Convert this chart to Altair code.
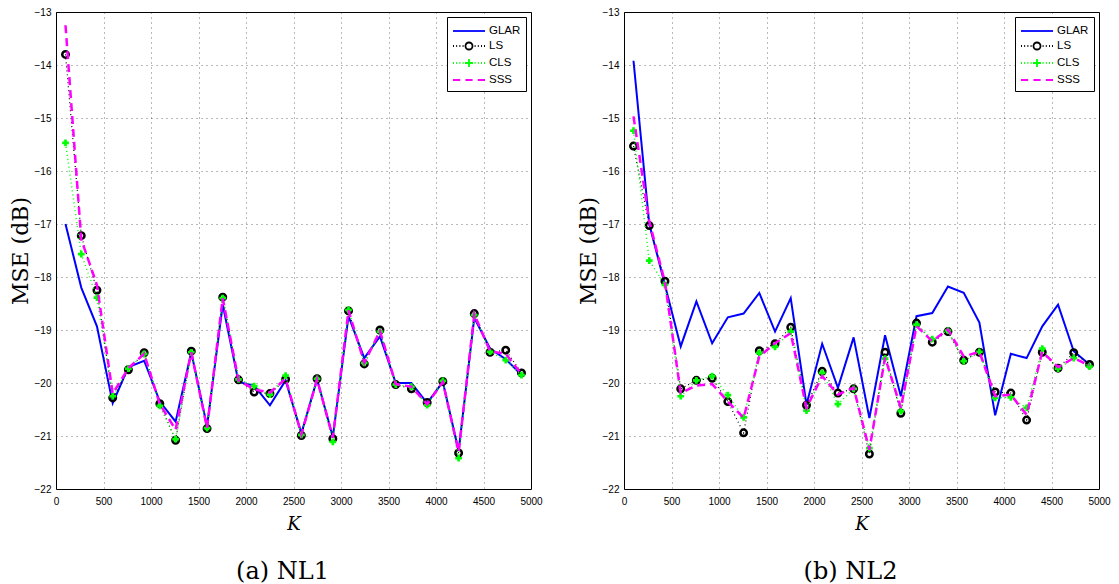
import altair as alt
import pandas as pd

K = [100, 266, 431, 597, 762, 928, 1093, 1259, 1424, 1590, 1755, 1921, 2086, 2252, 2417,
     2583, 2748, 2914, 3079, 3245, 3410, 3576, 3741, 3907, 4072, 4238, 4403, 4569, 4734, 4900]

nl1_glar = [-17.00, -18.20, -18.93, -20.38, -19.70, -19.58, -20.35, -20.73, -19.42, -20.82,
            -18.52, -19.98, -20.05, -20.42, -19.95, -20.95, -19.93, -21.02, -18.74, -19.53,
            -19.12, -20.00, -20.00, -20.38, -19.98, -21.28, -18.77, -19.35, -19.55, -19.85]
nl1_ls = [-13.80, -17.22, -18.25, -20.28, -19.75, -19.43, -20.39, -21.08, -19.40, -20.86,
          -18.38, -19.94, -20.17, -20.20, -19.93, -20.99, -19.92, -21.05, -18.64, -19.64,
          -19.00, -20.03, -20.11, -20.37, -19.97, -21.32, -18.69, -19.42, -19.38, -19.81]
nl1_cls = [-15.47, -17.57, -18.39, -20.25, -19.73, -19.45, -20.43, -21.06, -19.42, -20.85,
           -18.40, -19.93, -20.06, -20.22, -19.86, -20.98, -19.92, -21.11, -18.62, -19.62,
           -19.03, -20.03, -20.07, -20.42, -19.96, -21.42, -18.72, -19.41, -19.57, -19.85]
nl1_sss = [-13.25, -17.29, -18.15, -20.20, -19.72, -19.45, -20.40, -20.88, -19.42, -20.85,
           -18.40, -19.95, -20.12, -20.18, -19.92, -20.97, -19.93, -21.03, -18.63, -19.62,
           -19.02, -20.02, -20.07, -20.40, -19.98, -21.30, -18.70, -19.40, -19.45, -19.83]

nl2_glar = [-13.92, -17.00, -18.15, -19.31, -18.46, -19.25, -18.76, -18.69, -18.30, -19.03,
            -18.40, -20.41, -19.26, -20.09, -19.14, -20.66, -19.10, -20.25, -18.74, -18.68,
            -18.18, -18.30, -18.86, -20.61, -19.45, -19.53, -18.93, -18.52, -19.40, -19.65]
nl2_ls = [-15.53, -17.03, -18.08, -20.11, -19.95, -19.91, -20.35, -20.94, -19.39, -19.26,
          -18.95, -20.42, -19.78, -20.19, -20.11, -21.34, -19.42, -20.57, -18.87, -19.23,
          -19.03, -19.57, -19.42, -20.17, -20.19, -20.70, -19.42, -19.72, -19.43, -19.65]
nl2_cls = [-15.24, -17.69, -18.15, -20.25, -19.95, -19.87, -20.23, -20.65, -19.43, -19.32,
           -19.03, -20.52, -19.81, -20.40, -20.11, -21.23, -19.54, -20.53, -18.90, -19.17,
           -19.01, -19.59, -19.41, -20.28, -20.27, -20.47, -19.35, -19.73, -19.53, -19.69]
nl2_sss = [-14.97, -16.95, -18.10, -20.19, -20.05, -20.02, -20.35, -20.66, -19.50, -19.25,
           -19.06, -20.47, -19.87, -20.22, -20.09, -21.26, -19.52, -20.47, -18.93, -19.21,
           -18.99, -19.50, -19.41, -20.25, -20.22, -20.60, -19.41, -19.70, -19.53, -19.67]

series = ["GLAR", "LS", "CLS", "SSS"]
colors = ["#0000ff", "#000000", "#00ff00", "#ff00ff"]
x_ticks = [0, 500, 1000, 1500, 2000, 2500, 3000, 3500, 4000, 4500, 5000]
y_ticks = [-22, -21, -20, -19, -18, -17, -16, -15, -14, -13]
captions = ["(a) NL1", "(b) NL2"]

# legend symbol glyphs (unit = 8 px, spanning -1..3 -> 32 px)
dots = "M-1,0h0.12M-0.6,0h0.12M-0.2,0h0.12M0.2,0h0.12M1.7,0h0.12M2.1,0h0.12M2.5,0h0.12M2.88,0h0.12"
legend_paths = [
    "M-1,0H3",
    dots + "M0.56,0a0.44,0.44 0 1,0 0.88,0a0.44,0.44 0 1,0 -0.88,0",
    dots + "M0.5,0H1.5M1,-0.5V0.5",
    "M-1,0h0.9M0.55,0h0.9M2.1,0h0.9",
]


def make_df(glar, ls, cls, sss):
    rows = []
    for name, vals in zip(series, [glar, ls, cls, sss]):
        for k, v in zip(K, vals):
            rows.append({"K": k, "MSE": v, "series": name})
    return pd.DataFrame(rows)


def panel(df, caption):
    base = alt.Chart(df).encode(
        x=alt.X("K:Q", scale=alt.Scale(domain=[0, 5000], nice=False, zero=False),
                axis=alt.Axis(values=x_ticks, title="K", titleFontStyle="italic",
                              titleFont="DejaVu Serif", titleFontSize=18,
                              titleFontWeight="normal", titlePadding=9, format="d",
                              labelFlush=False, labelPadding=7)),
        y=alt.Y("MSE:Q", scale=alt.Scale(domain=[-22, -13], nice=False, zero=False),
                axis=alt.Axis(values=y_ticks, title="MSE (dB)", titleFont="DejaVu Serif",
                              titleFontSize=22, titleFontWeight="normal", titlePadding=2,
                              labelFlush=False, labelPadding=5)),
    )
    glar = base.transform_filter(alt.datum.series == "GLAR").mark_line(
        color="#0000ff", strokeWidth=2)
    ls_line = base.transform_filter(alt.datum.series == "LS").mark_line(
        color="#000000", strokeWidth=1.2, strokeDash=[1, 3])
    ls_pts = base.transform_filter(alt.datum.series == "LS").mark_point(
        shape="circle", filled=False, color="#000000", strokeWidth=2.5, size=42, opacity=1)
    cls_line = base.transform_filter(alt.datum.series == "CLS").mark_line(
        color="#00ff00", strokeWidth=1.5, strokeDash=[1, 3])
    cls_pts = base.transform_filter(alt.datum.series == "CLS").mark_point(
        shape="cross", filled=True, color="#00ff00", size=45, opacity=1)
    sss = base.transform_filter(alt.datum.series == "SSS").mark_line(
        color="#ff00ff", strokeWidth=2.5, strokeDash=[8, 5])
    leg = alt.Legend(title=None, orient="top-right", offset=5, padding=5,
                     strokeColor="black", fillColor="white", symbolSize=256,
                     symbolStrokeWidth=1.8, symbolOpacity=1, labelFont="Liberation Sans",
                     labelFontSize=11.5, labelColor="black", labelOffset=19, rowPadding=0,
                     cornerRadius=0, symbolFillColor="transparent")
    legend_layer = alt.Chart(df).transform_filter("datum.K < 0").mark_point(
        filled=False).encode(
        color=alt.Color("series:N", scale=alt.Scale(domain=series, range=colors), legend=leg),
        shape=alt.Shape("series:N", scale=alt.Scale(domain=series, range=legend_paths), legend=leg),
    )
    return alt.layer(glar, ls_line, ls_pts, cls_line, cls_pts, sss, legend_layer).properties(
        width=475, height=477,
        title=alt.TitleParams(caption, orient="bottom", font="DejaVu Serif", fontSize=24,
                              fontWeight="normal", color="black", offset=27, anchor="middle",
                              dx=-11),
    )


left = panel(make_df(nl1_glar, nl1_ls, nl1_cls, nl1_sss), captions[0])
right = panel(make_df(nl2_glar, nl2_ls, nl2_cls, nl2_sss), captions[1])

chart = alt.hconcat(left, right, spacing=33).resolve_scale(
    color="independent", shape="independent").resolve_legend(
    color="independent", shape="independent").properties(
    padding={"left": 8, "top": 6, "right": 5, "bottom": 0},
    background="white",
).configure_view(stroke="black", strokeWidth=1).configure_axis(
    grid=True, gridColor="#000000", gridOpacity=0.55, gridDash=[1, 4], gridWidth=1,
    ticks=False, domain=False, labelFont="Liberation Sans", labelFontSize=10,
    labelColor="black", titleColor="black",
)

chart.save("out.html", embed_options={"renderer": "svg", "actions": False})
